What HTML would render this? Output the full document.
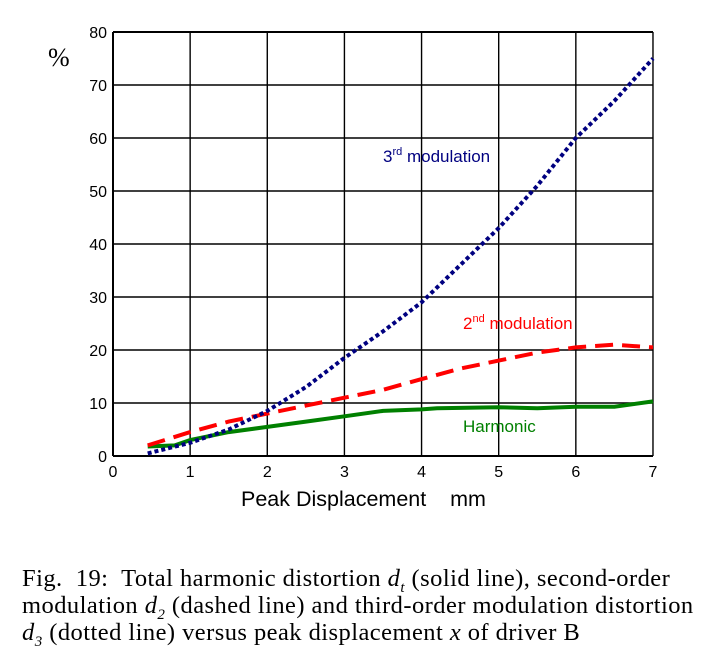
<!DOCTYPE html>
<html><head><style>
body{margin:0;background:#fff;width:715px;height:666px;overflow:hidden}
.cap{position:absolute;left:22px;font-family:"Liberation Serif",serif;font-size:24.5px;line-height:27px;color:#000;top:565px;white-space:nowrap;letter-spacing:0.45px}
</style></head><body>
<svg id="s" width="715" height="560" style="position:absolute;left:0;top:0" font-family="Liberation Sans, sans-serif"></svg>
<div class="cap">Fig.&nbsp; 19:&nbsp; Total harmonic distortion <i>d<sub style="font-size:15px;line-height:0">t</sub></i> (solid line), second-order<br>modulation <i>d<sub style="font-size:15px;line-height:0">2</sub></i> (dashed line) and third-order modulation distortion<br><i>d<sub style="font-size:15px;line-height:0">3</sub></i> (dotted line) versus peak displacement <i>x</i> of driver B</div>
<script>
var s=document.getElementById('s'),h='';
function X(v){return 113+77.14*v}function Y(p){return 456-5.3*p}
for(var i=0;i<=7;i++){h+='<line x1="'+X(i)+'" y1="32" x2="'+X(i)+'" y2="456" stroke="#000" stroke-width="'+(i==0?2:1.4)+'"/>';h+='<text x="'+X(i)+'" y="477" font-size="16" text-anchor="middle">'+i+'</text>';}
for(var j=0;j<=8;j++){var y=Y(j*10);h+='<line x1="113" y1="'+y+'" x2="653" y2="'+y+'" stroke="#000" stroke-width="'+(j==0||j==8?2:1.4)+'"/>';h+='<text x="107" y="'+(y+6)+'" font-size="16" text-anchor="end">'+(j*10)+'</text>';}
function P(a){return a.map(function(p){return X(p[0]).toFixed(1)+','+Y(p[1]).toFixed(1)}).join(' ')}
var g=[[0.45,1.8],[0.8,2],[1,3],[1.5,4.5],[2,5.5],[2.5,6.5],[3,7.5],[3.5,8.5],[4,8.8],[4.2,9],[5,9.2],[5.5,9],[6,9.3],[6.5,9.3],[7,10.3]];
var r=[[0.45,2],[1,4.5],[1.5,6.5],[2,8],[2.5,9.5],[3,11],[3.5,12.5],[4,14.5],[4.5,16.5],[5,18],[5.5,19.5],[6,20.5],[6.5,21],[7,20.5]];
var b=[[0.45,0.5],[1,2.5],[1.5,5],[2,8.5],[2.5,13],[3,18.5],[3.5,23.5],[4,29],[4.5,36],[5,43],[5.5,51],[6,60],[6.5,67],[7,75]];
h+='<polyline points="'+P(g)+'" fill="none" stroke="#008000" stroke-width="4"/>';
h+='<polyline points="'+P(r)+'" fill="none" stroke="#ff0000" stroke-width="4" stroke-dasharray="18,9"/>';
h+='<polyline points="'+P(b)+'" fill="none" stroke="#000080" stroke-width="4" stroke-dasharray="4,3"/>';
h+='<text x="383" y="162" font-size="17" fill="#000080">3<tspan font-size="11" dy="-7">rd</tspan><tspan dy="7"> modulation</tspan></text>';
h+='<text x="463" y="329" font-size="17" fill="#ff0000">2<tspan font-size="11" dy="-7">nd</tspan><tspan dy="7"> modulation</tspan></text>';
h+='<text x="463" y="432" font-size="17" fill="#008000">Harmonic</text>';
h+='<text x="48" y="66" font-size="26" font-family="Liberation Serif, serif">%</text>';
h+='<text x="241" y="506" font-size="21.5" xml:space="preserve">Peak Displacement    mm</text>';
s.innerHTML=h;
</script>
</body></html>
